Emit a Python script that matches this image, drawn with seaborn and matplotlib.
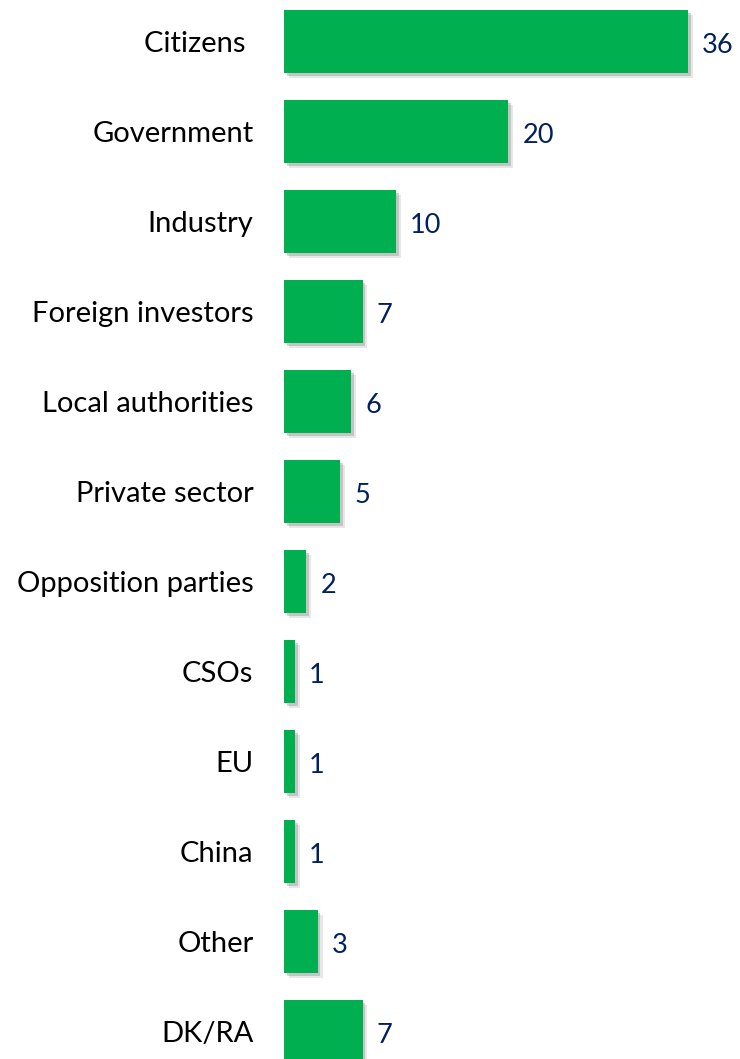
import matplotlib
matplotlib.use("Agg")
import matplotlib.pyplot as plt
import matplotlib.patheffects as pe
import seaborn as sns
import pandas as pd

# chart data
categories = [
    "Citizens ", "Government", "Industry", "Foreign investors",
    "Local authorities", "Private sector", "Opposition parties",
    "CSOs", "EU", "China", "Other", "DK/RA",
]
values = [36, 20, 10, 7, 6, 5, 2, 1, 1, 1, 3, 7]

df = pd.DataFrame({"group": categories, "value": values})

sns.set_style("white")
plt.rcParams["font.family"] = ["Lato", "DejaVu Sans"]

fig = plt.figure(figsize=(7.4, 10.59), dpi=100)
ax = fig.add_axes([284 / 740, 0, 456 / 740, 1])

sns.barplot(data=df, x="value", y="group", orient="h", color="#00B050",
            saturation=1, width=0.7, linewidth=0, ax=ax)

# soft drop shadow on each bar
for bar in ax.patches:
    bar.set_path_effects([
        pe.SimplePatchShadow(offset=(3.5, -3.5), shadow_rgbFace="#a0a0a0", alpha=0.25),
        pe.SimplePatchShadow(offset=(2, -2), shadow_rgbFace="#909090", alpha=0.4),
        pe.Normal(),
    ])

for i, v in enumerate(values):
    ax.text(v + 1.25, i + 0.05, str(v), va="center", ha="left",
            fontsize=19.5, color="#002060")

ax.set_xlim(0, 456 / 11.22)
ax.set_ylim(11.306, -0.461)
ax.set_xlabel("")
ax.set_ylabel("")
ax.set_xticks([])
ax.tick_params(axis="y", length=0, pad=22, labelsize=21, labelcolor="black")
sns.despine(ax=ax, left=True, bottom=True)

fig.savefig("out.png", dpi=100)
